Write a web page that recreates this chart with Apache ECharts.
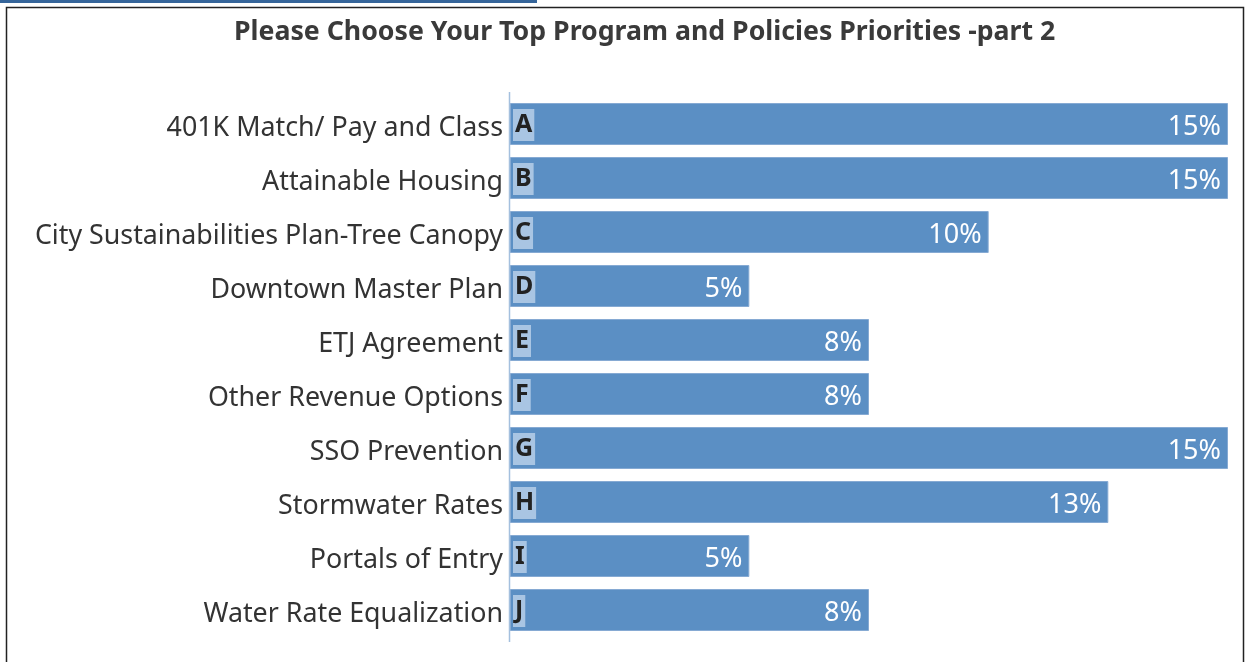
<!DOCTYPE html>
<html>
<head>
<meta charset="utf-8">
<script src="https://cdn.jsdelivr.net/npm/echarts@6/dist/echarts.min.js"></script>
<style>
  html, body { margin: 0; padding: 0; background: #fff; }
  #chart { width: 1251px; height: 662px; }
</style>
</head>
<body>
<div id="chart"></div>
<script>
const categories = [
  '401K Match/ Pay and Class',
  'Attainable Housing',
  'City Sustainabilities Plan-Tree Canopy',
  'Downtown Master Plan',
  'ETJ Agreement',
  'Other Revenue Options',
  'SSO Prevention',
  'Stormwater Rates',
  'Portals of Entry',
  'Water Rate Equalization'
]
const letters = ['A', 'B', 'C', 'D', 'E', 'F', 'G', 'H', 'I', 'J']
// share of responses, in percent
const percents = [15, 15, 10, 5, 7.5, 7.5, 15, 12.5, 5, 7.5]

const chart = echarts.init(document.getElementById('chart'))
const font = 'Noto Sans'

chart.setOption({
  animation: false,
  title: {
    text: 'Please Choose Your Top Program and Policies Priorities -part 2',
    left: 229,
    top: 14,
    textStyle: {
      fontFamily: font,
      fontSize: 26.7,
      fontWeight: 'bold',
      color: '#3a3a3a'
    }
  },
  grid: {
    left: 510,
    right: 23,
    top: 97,
    bottom: 25
  },
  xAxis: {
    type: 'value',
    min: 0,
    max: 15,
    show: false
  },
  yAxis: {
    type: 'category',
    inverse: true,
    data: categories,
    axisLine: { show: false },
    axisTick: { show: false },
    axisLabel: {
      margin: 7,
      formatter: v => '{t|' + v + '}',
      rich: {
        t: {
          fontFamily: font,
          fontSize: 26.8,
          color: '#333',
          padding: [8, 0, 0, 0]
        }
      }
    }
  },
  graphic: [
    // border box and top strip
    { type: 'rect', shape: { x: 6.5, y: 7.5, width: 1237, height: 700 }, style: { fill: 'none', stroke: '#222', lineWidth: 1.5 }, z: -1 },
    { type: 'rect', shape: { x: 0, y: 0, width: 537, height: 3 }, style: { fill: '#35659a' } },
    // axis line
    { type: 'line', shape: { x1: 509.5, y1: 92, x2: 509.5, y2: 642 }, style: { stroke: '#a4c0de', lineWidth: 1.5 } }
  ],
  series: [
    {
      type: 'bar',
      data: percents,
      barWidth: 42,
      itemStyle: {
        color: '#5b8fc4',
        borderColor: '#86aad3',
        borderWidth: 1
      },
      label: {
        show: true,
        position: 'insideRight',
        distance: 7,
        offset: [0, 3],
        fontFamily: font,
        fontSize: 27,
        color: '#fff',
        formatter: p => Math.round(p.value) + '%'
      }
    },
    {
      type: 'bar',
      data: percents,
      barWidth: 42,
      barGap: '-100%',
      itemStyle: { color: 'transparent' },
      label: {
        show: true,
        position: 'insideLeft',
        distance: 3,
        offset: [0, 1],
        fontFamily: font,
        fontSize: 25,
        fontWeight: 'bold',
        color: '#222',
        backgroundColor: '#a9c5e3',
        padding: [5, 2, 2, 2],
        formatter: p => letters[p.dataIndex]
      }
    }
  ]
})
</script>
</body>
</html>
